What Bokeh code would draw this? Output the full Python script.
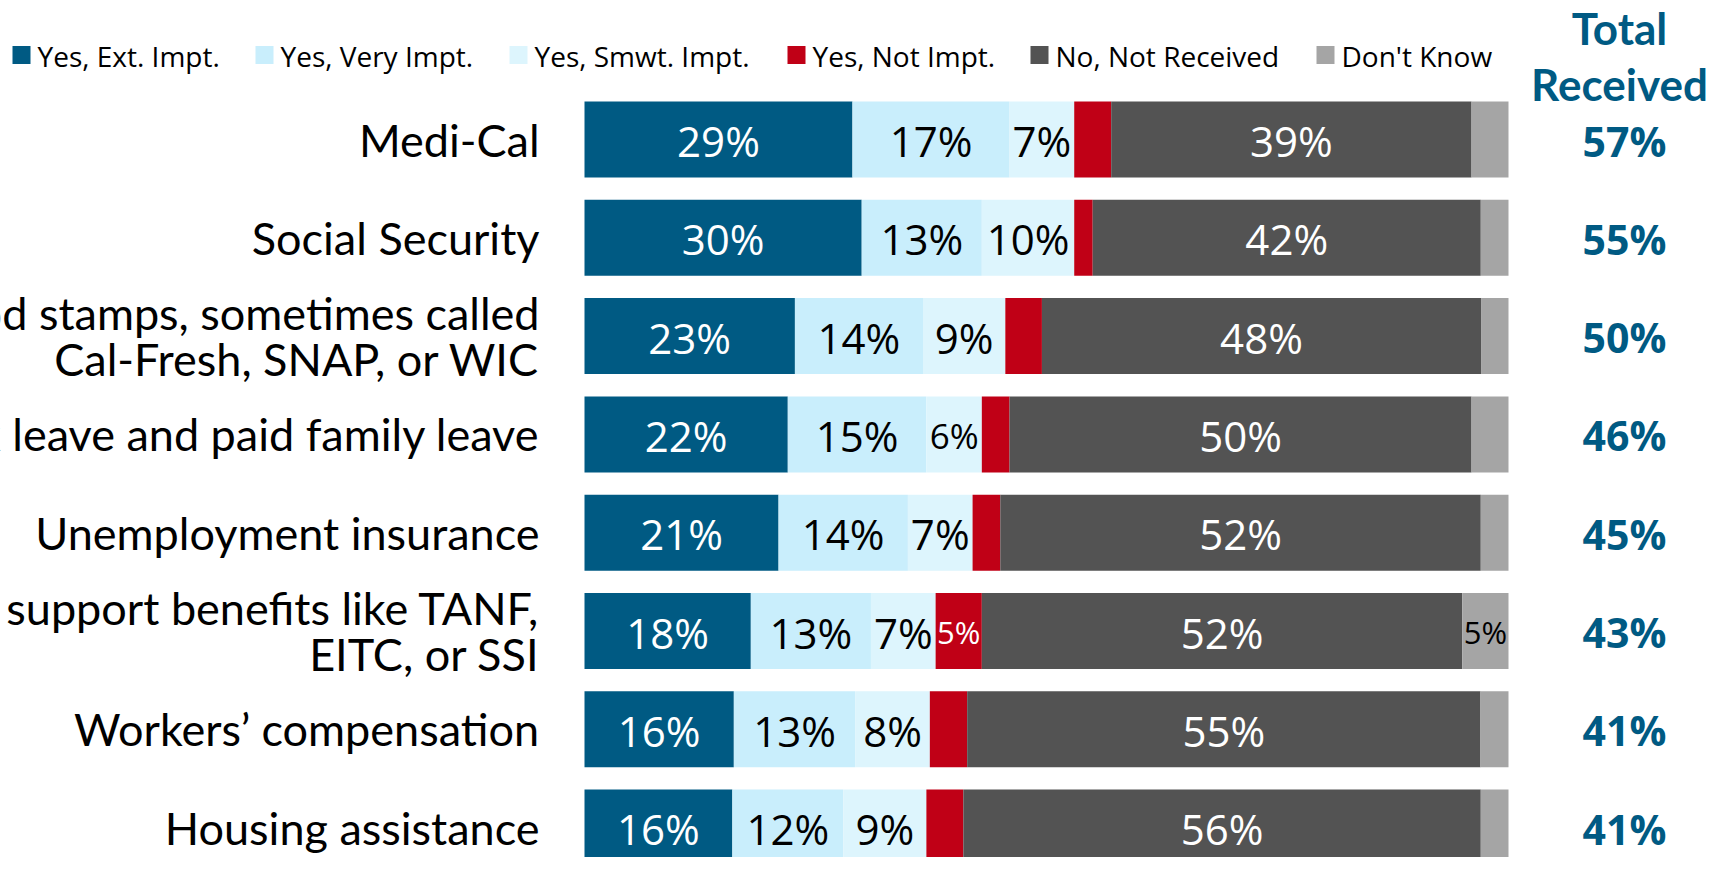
from bokeh.plotting import figure
from bokeh.models import Range1d, ColumnDataSource
from bokeh.embed import file_html
from bokeh.resources import INLINE
from bokeh.core.properties import value

# ---------------- data ----------------
categories = [
    "Medi-Cal",
    "Social Security",
    "Food stamps, sometimes called\nCal-Fresh, SNAP, or WIC",
    "Paid sick leave and paid family leave",
    "Unemployment insurance",
    "Income support benefits like TANF,\nEITC, or SSI",
    "Workers\u2019 compensation",
    "Housing assistance",
]
series_names = ["Yes, Ext. Impt.", "Yes, Very Impt.", "Yes, Smwt. Impt.",
                "Yes, Not Impt.", "No, Not Received", "Don't Know"]
ext_impt = [29, 30, 23, 22, 21, 18, 16, 16]
very_impt = [17, 13, 14, 15, 14, 13, 13, 12]
smwt_impt = [7, 10, 9, 6, 7, 7, 8, 9]
not_impt = [4, 2, 4, 3, 3, 5, 4, 4]
not_received = [39, 42, 48, 50, 52, 52, 55, 56]
dont_know = [4, 3, 3, 4, 3, 5, 3, 3]
total_received = [57, 55, 50, 46, 45, 43, 41, 41]

# ---------------- style ----------------
colors = ["#005A83", "#C9EEFC", "#DDF5FD", "#C00016", "#535353", "#A5A5A5"]
label_colors = ["white", "black", "black", "white", "white", "black"]
TOTAL_COLOR = "#005A83"

W, H = 1706, 857
X0_PX = 584.0        # pixel of 0 %
PX_PER_PCT = 9.24    # pixels per percent
Y0_PX = 139.0        # pixel of first row centre
ROW_PX = 98.3        # pixels per row
BAR_PX = 76.0

def px2x(px):
    return (px - X0_PX) / PX_PER_PCT

def py2y(py):
    return (py - Y0_PX) / ROW_PX

p = figure(width=W, height=H, output_backend="svg", toolbar_location=None,
           x_range=Range1d(px2x(0), px2x(W)), y_range=Range1d(py2y(H), py2y(0)),
           min_border=0, min_border_left=0, min_border_right=0,
           min_border_top=0, min_border_bottom=0)
p.axis.visible = False
p.grid.visible = False
p.outline_line_color = None
p.background_fill_color = "white"
p.border_fill_color = "white"

series = [ext_impt, very_impt, smwt_impt, not_impt, not_received, dont_know]
n = len(categories)
rows = list(range(n))
row_sums = [sum(s[i] for s in series) for i in rows]

left = [0.0] * n
for k, s in enumerate(series):
    widths = [s[i] * 100.0 / row_sums[i] for i in rows]
    right = [left[i] + widths[i] for i in rows]
    src = ColumnDataSource(dict(y=rows, left=left, right=right))
    p.hbar(y="y", left="left", right="right", height=BAR_PX / ROW_PX,
           source=src, fill_color=colors[k], line_color=None)
    # labels
    lx, ly, lt, ls = [], [], [], []
    for i in rows:
        if s[i] >= 5:
            lx.append((left[i] + right[i]) / 2)
            ly.append(i)
            lt.append(f"{s[i]}%")
            ls.append("42px" if s[i] >= 7 else ("35px" if s[i] == 6 else "31px"))
    lsrc = ColumnDataSource(dict(x=lx, y=ly, t=lt, fs=ls))
    p.text(x="x", y="y", text="t", source=lsrc, text_align="center",
           text_baseline="middle", text_font_size="fs",
           text_font=value("Open Sans"), text_color=label_colors[k], y_offset=1)
    left = right

# category labels
csrc = ColumnDataSource(dict(x=[0] * n, y=rows, t=categories))
p.text(x="x", y="y", text="t", source=csrc, x_offset=-45, y_offset=0,
       text_align="right", text_baseline="middle", text_font_size="45px",
       text_font=value("Lato"), text_color="black", text_line_height=0.86)

# totals
TOTAL_X = px2x(1624)
tsrc = ColumnDataSource(dict(x=[TOTAL_X] * n, y=rows,
                             t=[f"{v}%" for v in total_received]))
p.text(x="x", y="y", text="t", source=tsrc, text_align="center",
       text_baseline="middle", text_font_size="41px", text_font_style="bold",
       text_font=value("Open Sans"), text_color=TOTAL_COLOR, y_offset=1)

# header
HEAD_X = px2x(1619)
hsrc = ColumnDataSource(dict(x=[HEAD_X, HEAD_X],
                             y=[py2y(27), py2y(83)],
                             t=["Total", "Received"]))
p.text(x="x", y="y", text="t", source=hsrc, text_align="center",
       text_baseline="middle", text_font_size="44px", text_font_style="bold",
       text_font=value("Lato"), text_color=TOTAL_COLOR)

# legend
leg_left_px = [12, 255, 509, 787, 1030, 1316]
LEG_Y_PX = 54.5
SQ = 18
sq_x = [px2x(v + SQ / 2) for v in leg_left_px]
sq_src = ColumnDataSource(dict(x=sq_x, y=[py2y(LEG_Y_PX)] * 6, c=colors))
p.rect(x="x", y="y", width=SQ / PX_PER_PCT, height=SQ / ROW_PX,
       fill_color="c", line_color=None, source=sq_src)
lt_src = ColumnDataSource(dict(x=[px2x(v + 25) for v in leg_left_px],
                               y=[py2y(LEG_Y_PX)] * 6, t=series_names))
p.text(x="x", y="y", text="t", source=lt_src, text_align="left",
       text_baseline="middle", text_font_size="28px",
       text_font=value("Open Sans"), text_color="black", y_offset=1)

open("out.html", "w").write(file_html(p, INLINE))
